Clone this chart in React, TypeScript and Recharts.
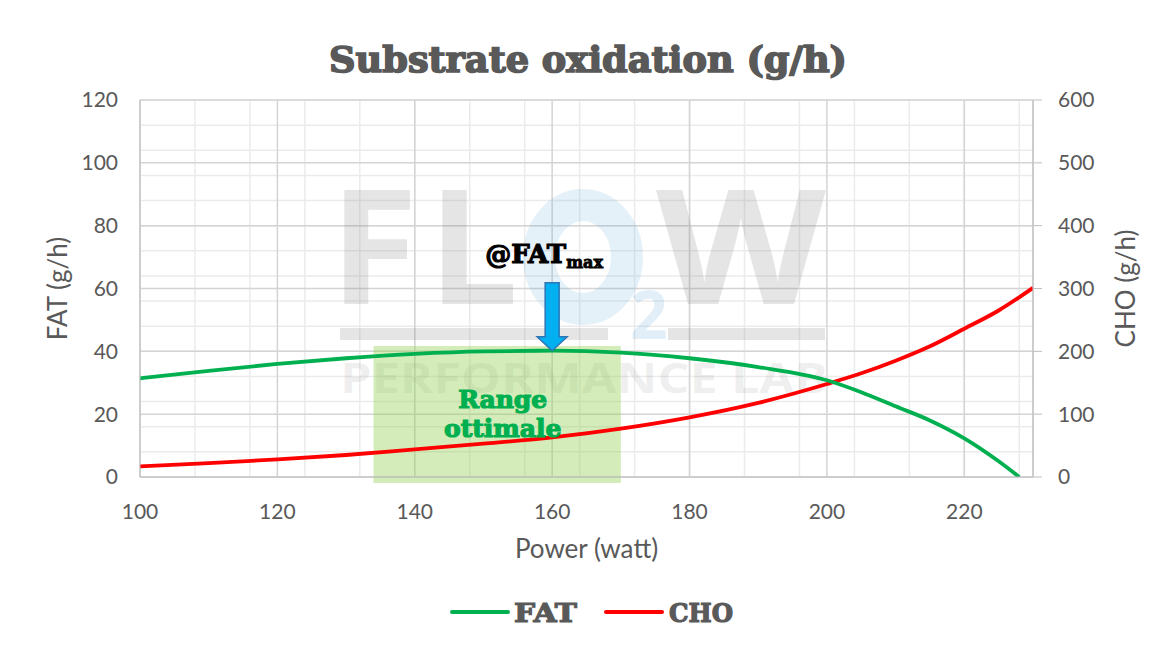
import React from 'react';
import { ComposedChart, Line, XAxis, YAxis, CartesianGrid, ReferenceArea, ReferenceDot } from 'recharts';

// ---- data ----
const fatWatt = [100, 110, 120, 130, 140, 150, 160, 170, 180, 190, 200, 205, 210, 215, 220, 225, 228];
const fatValues = [31.4, 33.8, 36, 37.8, 39.2, 40, 40.2, 39.6, 37.8, 35, 30.8, 27, 22.5, 18, 12.3, 5, 0];
const choWatt = [100, 110, 120, 130, 140, 150, 160, 170, 180, 190, 200, 205, 210, 215, 220, 225, 230];
const choValues = [17, 22, 28, 35, 44, 53, 63, 77, 95, 118, 148, 165, 185, 208, 236, 265, 301];

const powerTicks = [100, 120, 140, 160, 180, 200, 220];
const powerMinorTicks = [100, 104, 108, 112, 116, 120, 124, 128, 132, 136, 140, 144, 148, 152, 156, 160, 164, 168, 172, 176, 180, 184, 188, 192, 196, 200, 204, 208, 212, 216, 220, 224, 228];
const fatTicks = [0, 20, 40, 60, 80, 100, 120];
const fatMinorTicks = [0, 4, 8, 12, 16, 20, 24, 28, 32, 36, 40, 44, 48, 52, 56, 60, 64, 68, 72, 76, 80, 84, 88, 92, 96, 100, 104, 108, 112, 116, 120];
const choTicks = [0, 100, 200, 300, 400, 500, 600];
const optimalRange = [134, 170];
const optimalTop = 41.7;
const fatMax = { w: 160, fat: 40.2 };
const rangeLabelPos = { w: 152.8, fat: 20 };

const fatData = fatWatt.map((w, i) => ({ w, fat: fatValues[i] }));
const choData = choWatt.map((w, i) => ({ w, cho: choValues[i] }));

const TXT = '#595959';
const SLAB = '"DejaVu Serif", serif';
const SANS = 'Lato, "Open Sans", sans-serif';
const WM = '"Open Sans", "Noto Sans", sans-serif';

const ArrowShape = (props: any) => {
  const { cx, cy } = props;
  if (cx == null || cy == null) return null;
  const tip = cy;
  const headTop = tip - 14;
  const shaftTop = tip - 68;
  const d = `M ${cx - 7} ${shaftTop} L ${cx + 7} ${shaftTop} L ${cx + 7} ${headTop} L ${cx + 15} ${headTop} L ${cx} ${tip} L ${cx - 15} ${headTop} L ${cx - 7} ${headTop} Z`;
  return (
    <g>
      <path d={d} fill="#00b0f0" stroke="#2e75b6" strokeWidth={1.5} />
      <text x={cx - 67} y={tip - 88} fontFamily={SLAB} fontWeight={900} fontSize={26} fill="#000" stroke="#000" strokeWidth={1.2}>
        @FAT
        <tspan fontSize={16} dy={5} strokeWidth={0.8}>max</tspan>
      </text>
    </g>
  );
};

const RangeLabel = (props: any) => {
  const { cx, cy } = props;
  if (cx == null || cy == null) return null;
  return (
    <g>
      <text x={cx} y={cy - 6} textAnchor="middle" fontFamily={SLAB} fontWeight={900} fontSize={25} fill="#00b050" stroke="#00b050" strokeWidth={1.2}>Range</text>
      <text x={cx} y={cy + 23} textAnchor="middle" fontFamily={SLAB} fontWeight={900} fontSize={25} fill="#00b050" stroke="#00b050" strokeWidth={1.2}>ottimale</text>
    </g>
  );
};

const Watermark = () => (
  <g pointerEvents="none">
    <text x={322} y={296} fontFamily={WM} fontWeight={700} fontSize={160} fill="#7f7f7f" fillOpacity={0.2}>F</text>
    <text x={420} y={296} fontFamily={WM} fontWeight={700} fontSize={160} fill="#7f7f7f" fillOpacity={0.2}>L</text>
    <ellipse cx={575} cy={249} rx={44} ry={52} fill="none" stroke="#5fa8dc" strokeOpacity={0.16} strokeWidth={32} />
    <text x={622} y={331} fontFamily={WM} fontWeight={700} fontSize={66} fill="#5fa8dc" fillOpacity={0.18}>2</text>
    <text x={648} y={296} fontFamily={WM} fontWeight={700} fontSize={160} fill="#7f7f7f" fillOpacity={0.2} textLength={170} lengthAdjust="spacingAndGlyphs">W</text>
    <rect x={332} y={320} width={268} height={12} fill="#7f7f7f" fillOpacity={0.2} />
    <rect x={660} y={320} width={157} height={12} fill="#7f7f7f" fillOpacity={0.2} />
    <text x={332} y={385} fontFamily={WM} fontWeight={700} fontSize={42} fill="#7f7f7f" fillOpacity={0.13} textLength={488} lengthAdjust="spacingAndGlyphs">PERFORMANCE LAB</text>
  </g>
);

const Decorations = () => (
  <g>
    <text x={580} y={64} textAnchor="middle" fontFamily={SLAB} fontWeight={900} fontSize={35} fill={TXT} stroke={TXT} strokeWidth={1.6} textLength={518} lengthAdjust="spacingAndGlyphs">Substrate oxidation (g/h)</text>
    <line x1={444} y1={604} x2={500} y2={604} stroke="#00b050" strokeWidth={4} strokeLinecap="round" />
    <text x={506} y={614} fontFamily={SLAB} fontWeight={900} fontSize={26} fill={TXT} stroke={TXT} strokeWidth={1.2} textLength={63} lengthAdjust="spacingAndGlyphs">FAT</text>
    <line x1={598} y1={604} x2={654} y2={604} stroke="#ff0000" strokeWidth={4} strokeLinecap="round" />
    <text x={661} y={614} fontFamily={SLAB} fontWeight={900} fontSize={26} fill={TXT} stroke={TXT} strokeWidth={1.2} textLength={64} lengthAdjust="spacingAndGlyphs">CHO</text>
  </g>
);

export default function App() {
  return (
    <div style={{ width: 1168, height: 664, background: '#fff' }}>
      <ComposedChart width={1168} height={664} margin={{ top: 92, right: 83, bottom: 155, left: 72 }}>
        <XAxis xAxisId="minor" type="number" dataKey="w" domain={[100, 230]} ticks={powerMinorTicks} hide height={0} allowDataOverflow />
        <YAxis yAxisId="minor" type="number" domain={[0, 120]} ticks={fatMinorTicks} hide width={0} allowDataOverflow />
        <XAxis
          xAxisId="x"
          type="number"
          dataKey="w"
          domain={[100, 230]}
          ticks={powerTicks}
          allowDataOverflow
          height={40}
          stroke="#bfbfbf"
          tickLine={false}
          tickSize={6}
          tickMargin={21}
          tick={{ fill: TXT, fontSize: 21, fontFamily: SANS }}
          label={{ value: 'Power (watt)', position: 'bottom', offset: 23, fill: TXT, fontSize: 26, fontFamily: SANS }}
        />
        <YAxis
          yAxisId="fat"
          orientation="left"
          type="number"
          domain={[0, 120]}
          ticks={fatTicks}
          allowDataOverflow
          width={60}
          stroke="#bfbfbf"
          tickLine={false}
          tickSize={6}
          tickMargin={16}
          tick={{ fill: TXT, fontSize: 21, fontFamily: SANS }}
          label={{ value: 'FAT (g/h)', angle: -90, position: 'insideLeft', offset: -22, fill: TXT, fontSize: 26, fontFamily: SANS, style: { textAnchor: 'middle' } }}
        />
        <YAxis
          yAxisId="cho"
          orientation="right"
          type="number"
          domain={[0, 600]}
          ticks={choTicks}
          allowDataOverflow
          width={60}
          stroke="#bfbfbf"
          tickLine={{ stroke: '#bfbfbf' }}
          tickSize={9}
          tickMargin={16}
          tick={{ fill: TXT, fontSize: 21, fontFamily: SANS, textAnchor: 'start' }}
          label={{ value: 'CHO (g/h)', angle: -90, position: 'insideRight', offset: -33, fill: TXT, fontSize: 26, fontFamily: SANS, style: { textAnchor: 'middle' } }}
        />
        <CartesianGrid xAxisId="minor" yAxisId="minor" stroke="#ebebeb" strokeWidth={1.5} />
        <CartesianGrid xAxisId="x" yAxisId="fat" stroke="#d4d4d4" strokeWidth={1.5} />
        <Watermark />
        <Line xAxisId="x" yAxisId="cho" data={choData} dataKey="cho" type="monotone" stroke="#ff0000" strokeWidth={3.8} dot={false} activeDot={false} isAnimationActive={false} />
        <Line xAxisId="x" yAxisId="fat" data={fatData} dataKey="fat" type="monotone" stroke="#00b050" strokeWidth={3.8} dot={false} activeDot={false} isAnimationActive={false} />
        <ReferenceArea xAxisId="x" yAxisId="fat" x1={optimalRange[0]} x2={optimalRange[1]} y1={-1.9} y2={optimalTop} ifOverflow="visible" fill="#92d050" fillOpacity={0.4} stroke="none" />
        <ReferenceDot xAxisId="x" yAxisId="fat" x={rangeLabelPos.w} y={rangeLabelPos.fat} ifOverflow="visible" shape={RangeLabel} />
        <ReferenceDot xAxisId="x" yAxisId="fat" x={fatMax.w} y={fatMax.fat} ifOverflow="visible" shape={ArrowShape} />
        <Decorations />
      </ComposedChart>
    </div>
  );
}
